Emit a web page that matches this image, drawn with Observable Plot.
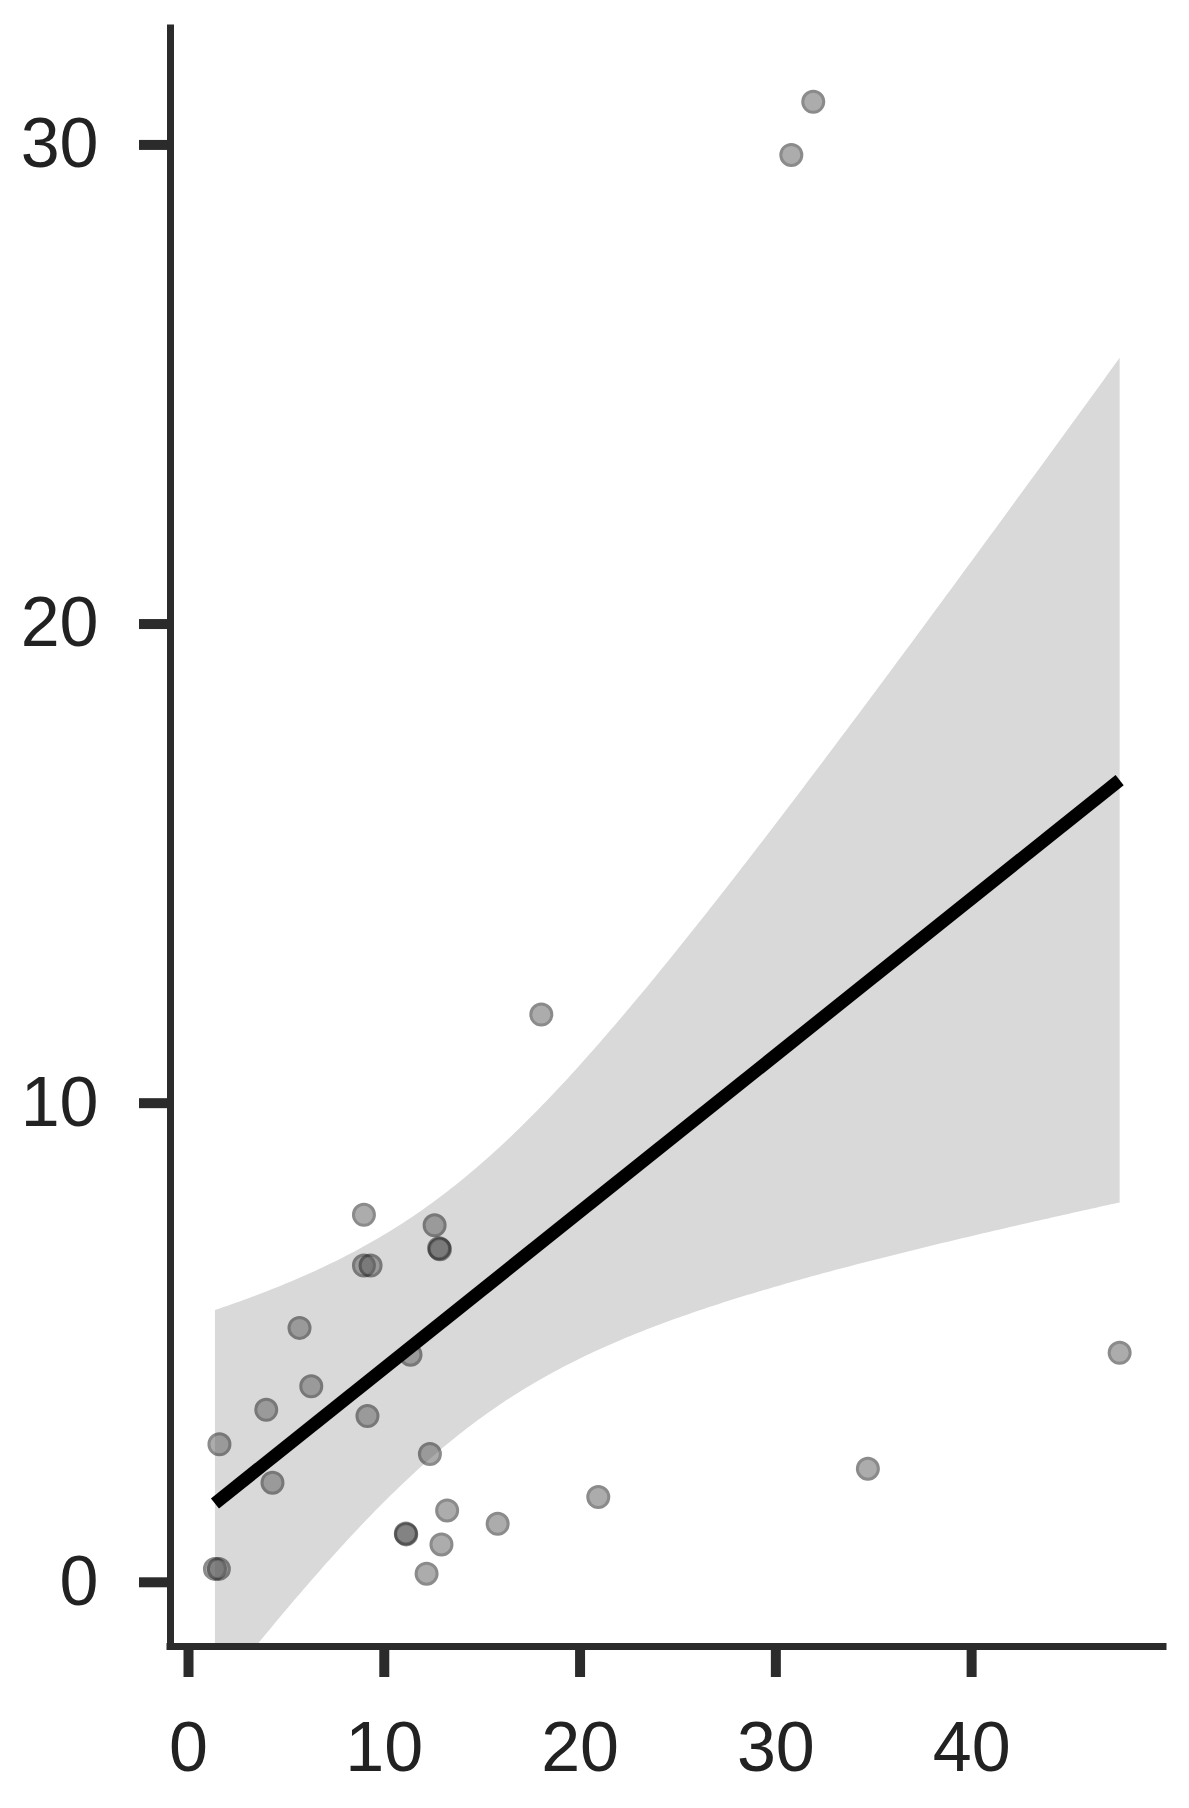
<!DOCTYPE html>
<html>
<head>
<meta charset="utf-8">
<script src="https://cdn.jsdelivr.net/npm/d3@7"></script>
<script src="https://cdn.jsdelivr.net/npm/@observablehq/plot@0.6"></script>
<style>
  html, body { margin: 0; padding: 0; background: #fff; }
  #chart svg { display: block; }
</style>
</head>
<body>
<div id="chart"></div>
<script>
// Data
const xValues = [31.91, 30.79, 18.02, 8.96, 12.57, 12.84, 12.80, 8.96, 9.30, 5.67,
                 11.34, 6.27, 3.97, 9.14, 1.58, 12.33, 4.29, 20.93, 13.21, 15.79,
                 11.12, 11.10, 12.92, 12.16, 1.35, 1.55, 47.56, 34.70];
const yValues = [30.90, 29.79, 11.85, 7.67, 7.45, 6.95, 6.97, 6.61, 6.61, 5.31,
                 4.75, 4.09, 3.60, 3.47, 2.88, 2.68, 2.08, 1.78, 1.50, 1.22,
                 1.00, 1.02, 0.79, 0.18, 0.28, 0.28, 4.79, 2.37];
const xTicks = [0, 10, 20, 30, 40];
const yTicks = [0, 10, 20, 30];
const xDomain = [-0.92, 49.8];
const yDomain = [-1.34, 32.43];

const data = xValues.map((x, i) => ({x, y: yValues[i]}));

const axisColor = "#2b2b2b";

const chart = Plot.plot({
  width: 1189,
  height: 1808,
  marginLeft: 170,
  marginRight: 26,
  marginTop: 28,
  marginBottom: 162,
  style: {fontFamily: "'Liberation Sans', Arial, sans-serif", fontSize: "70px", background: "#fff", color: "#222"},
  x: {domain: xDomain},
  y: {domain: yDomain},
  marks: [
    Plot.linearRegressionY(data, {x: "x", y: "y", ci: 0.95, stroke: "none", fill: "#d9d9d9", fillOpacity: 1, clip: true}),
    Plot.dot(data, {x: "x", y: "y", r: 10.5, fill: "#5c5c5c", stroke: "#1a1a1a", strokeWidth: 3, opacity: 0.5}),
    Plot.linearRegressionY(data, {x: "x", y: "y", ci: 0, stroke: "#000", strokeWidth: 13, strokeLinecap: "butt"}),
    Plot.ruleX([xDomain[0]], {stroke: axisColor, strokeWidth: 7, strokeLinecap: "square"}),
    Plot.ruleY([yDomain[0]], {stroke: axisColor, strokeWidth: 7, strokeLinecap: "square"}),
    Plot.axisX({ticks: xTicks, tickSize: 31, tickPadding: 44, stroke: axisColor, strokeWidth: 10, fill: "#222", fontSize: 70, label: null}),
    Plot.axisY({ticks: yTicks, tickSize: 31, tickPadding: 41, stroke: axisColor, strokeWidth: 10, fill: "#222", fontSize: 70, label: null})
  ]
});
document.getElementById("chart").appendChild(chart);
</script>
</body>
</html>
